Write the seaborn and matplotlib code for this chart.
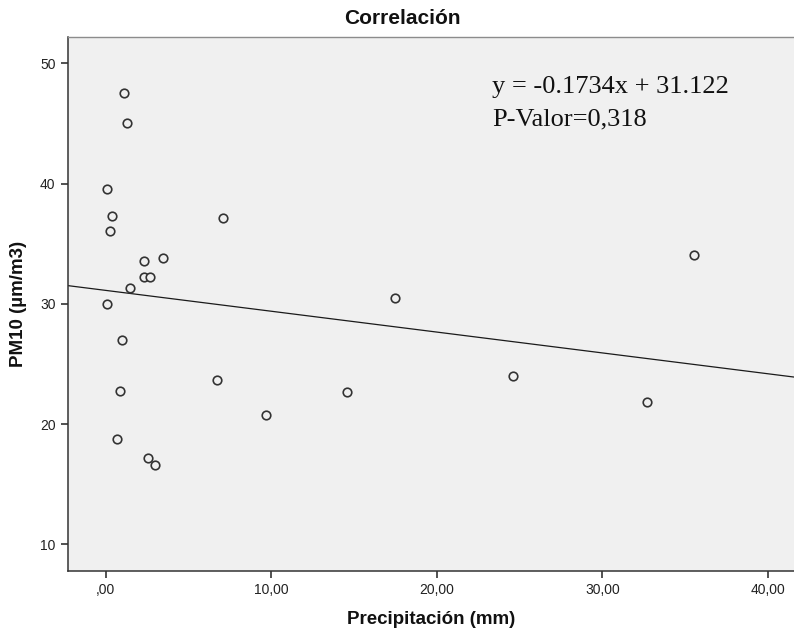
import matplotlib
matplotlib.use("Agg")
import matplotlib.pyplot as plt
import seaborn as sns
import pandas as pd

# Data
precipitacion = [1.09, 1.29, 0.08, 0.38, 0.28, 7.07, 2.29, 3.48, 2.29, 2.68, 1.47, 0.10,
                 0.97, 6.70, 0.86, 0.68, 2.57, 3.00, 17.50, 14.57, 9.68, 24.60, 32.70, 35.50]
pm10 = [47.55, 45.08, 39.58, 37.33, 36.10, 37.13, 33.55, 33.78, 32.25, 32.25, 31.30, 30.00,
        26.97, 23.63, 22.72, 18.72, 17.17, 16.58, 30.47, 22.67, 20.75, 24.00, 21.86, 34.08]
slope = -0.1734
intercept = 31.122
x_ticks = [0, 10, 20, 30, 40]
x_ticklabels = [",00", "10,00", "20,00", "30,00", "40,00"]
y_ticks = [10, 20, 30, 40, 50]

df = pd.DataFrame({"Precipitación (mm)": precipitacion, "PM10 (µm/m3)": pm10})

sns.set_theme(style="white")
plt.rcParams["font.family"] = ["Liberation Sans", "DejaVu Sans"]

fig = plt.figure(figsize=(7.94, 6.30), dpi=100)
ax = fig.add_axes([68 / 794, 1 - 571 / 630, 1 - 68 / 794, (571 - 37) / 630])
bg = "#F0F0F0"
ax.set_facecolor(bg)

sns.scatterplot(data=df, x="Precipitación (mm)", y="PM10 (µm/m3)", ax=ax,
                s=38, facecolor=bg, edgecolor="#333333", linewidth=1.2, zorder=3)

ax.set_xlim(-2.28, 41.57)
ax.set_ylim(7.78, 52.2)
ax.axline((0, intercept), slope=slope, color="#1a1a1a", linewidth=0.9, zorder=2)

ax.set_xticks(x_ticks)
ax.set_xticklabels(x_ticklabels)
ax.set_yticks(y_ticks)
ax.set_yticklabels([str(v) for v in y_ticks])
ax.tick_params(axis="both", which="major", direction="out", length=5, width=1.1,
               color="#222222", labelsize=10, labelcolor="#222222", bottom=True, left=True, pad=4)

for side in ["left", "bottom"]:
    ax.spines[side].set_color("#333333")
    ax.spines[side].set_linewidth(1.1)
ax.spines["top"].set_color("#8c8c8c")
ax.spines["top"].set_linewidth(1.0)
ax.spines["right"].set_visible(False)

ax.set_xlabel("Precipitación (mm)", fontsize=13.5, fontweight="bold", color="#111111", labelpad=10)
ax.set_ylabel("PM10 (µm/m3)", fontsize=13.5, fontweight="bold", color="#111111", labelpad=9)
ax.set_title("Correlación", fontsize=15, fontweight="bold", color="#111111",
             x=(402 - 68) / 726, pad=9)

serif = ["Liberation Serif", "DejaVu Serif"]
ax.text((492 - 68) / 726, (571 - 93) / 534, "y = -0.1734x + 31.122", transform=ax.transAxes,
        fontsize=19, family=serif, va="baseline", ha="left", color="#111111")
ax.text((492 - 68) / 726, (571 - 125) / 534, "P-Valor=0,318", transform=ax.transAxes,
        fontsize=19, family=serif, va="baseline", ha="left", color="#111111")

fig.savefig("out.png", dpi=100, facecolor="white")
